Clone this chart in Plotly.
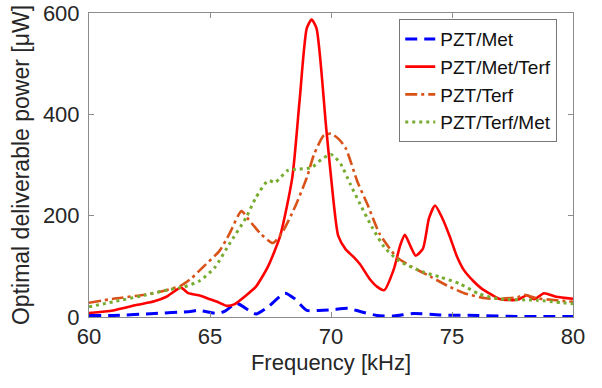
import plotly.graph_objects as go

# PZT/Met (blue dashed)
met_f = [60, 61, 62.7, 64.2, 64.5, 65.3, 65.6, 66.1, 66.6, 66.9, 67.4, 68.1, 68.5, 69.0, 69.5, 70.0,
         70.7, 71.2, 71.9, 72.6, 73.4, 74.5, 76.1, 77.7, 80]
met_p = [3, 3, 7, 11, 13, 7, 11, 27, 13, 6, 20, 47, 36, 13, 13, 14,
         17, 11, 3, 2, 7, 4, 3, 1, 1]

# PZT/Met/Terf (red solid)
metterf_f = [60, 61, 62, 62.7, 63.2, 63.8, 64.1, 64.6, 65.0, 65.3, 65.7, 66.0, 66.5, 66.9, 67.4, 67.9,
             68.4, 68.7, 69.0, 69.2, 69.4, 69.8, 70.1, 70.3, 70.6, 70.9, 71.2, 71.6, 71.9, 72.2,
             72.6, 72.85, 73.05, 73.3, 73.5, 73.8, 74.05, 74.3, 74.6, 74.9, 75.2, 75.5, 75.9, 76.2,
             76.6, 77.0, 77.7, 78.1, 78.4, 78.8, 79.3, 80]
metterf_p = [8, 13, 24, 31, 40, 58, 47, 42, 35, 30, 22, 25, 43, 60, 100, 160,
             275, 426, 570, 587, 570, 374, 230, 160, 134, 120, 104, 75, 60, 53,
             95, 140, 162, 138, 121, 135, 195, 220, 195, 160, 120, 92, 70, 57,
             45, 35, 34, 43, 35, 47, 40, 36]

# PZT/Terf (orange dash-dot)
terf_f = [60, 61, 62.3, 63.1, 63.8, 64.2, 64.7, 65.4, 65.8, 66.3, 66.6, 67.1, 67.6, 68.0, 68.5, 69.0,
          69.3, 69.7, 70.0, 70.3, 70.6, 71.1, 71.5, 72.0, 72.7, 73.3, 74.1, 74.8, 75.5, 76.4,
          77.0, 77.7, 78.0, 78.5, 79.3, 80]
terf_p = [28, 36, 44, 52, 62, 75, 98, 131, 164, 209, 192, 164, 146, 168, 216, 275,
          321, 358, 362, 352, 334, 266, 223, 165, 119, 100, 80, 62, 47, 37,
          36, 39, 44, 37, 33, 30]

# PZT/Terf/Met (green dotted)
terfmet_f = [60, 61, 62.3, 63.3, 63.9, 64.6, 65.2, 65.8, 66.5, 66.9, 67.4, 67.7, 68.2, 68.7, 69.2,
             69.6, 70.0, 70.4, 70.8, 71.2, 71.7, 72.2, 72.8, 73.8, 74.5, 75.3, 76.1, 76.9, 78.5, 80]
terfmet_p = [20, 30, 43, 54, 59, 72, 98, 144, 197, 236, 269, 266, 289, 292, 295,
             311, 321, 302, 262, 223, 177, 138, 111, 89, 79, 66, 46, 36, 33, 26]

names = ["PZT/Met", "PZT/Met/Terf", "PZT/Terf", "PZT/Terf/Met"]
x_ticks = [60, 65, 70, 75, 80]
y_ticks = [0, 200, 400, 600]

FONT = "Liberation Sans, Arial, sans-serif"
TXT = "#262626"
AX = "#8c8c8c"

fig = go.Figure()
fig.add_trace(go.Scatter(x=met_f, y=met_p, name=names[0], mode="lines",
                         line=dict(color="#0000FF", width=3, dash="12px,7px", shape="spline", smoothing=0.6)))
fig.add_trace(go.Scatter(x=metterf_f, y=metterf_p, name=names[1], mode="lines",
                         line=dict(color="#FF0000", width=2.6, shape="spline", smoothing=0.6)))
fig.add_trace(go.Scatter(x=terf_f, y=terf_p, name=names[2], mode="lines",
                         line=dict(color="#D95319", width=2.6, dash="12px,4px,3px,4px", shape="spline", smoothing=0.6)))
fig.add_trace(go.Scatter(x=terfmet_f, y=terfmet_p, name=names[3], mode="lines",
                         line=dict(color="#77AC30", width=3, dash="3px,4px", shape="spline", smoothing=0.6)))

axis_common = dict(showgrid=False, zeroline=False, showline=True, linecolor=AX, linewidth=1,
                   mirror="ticks", ticks="inside", ticklen=5, tickcolor=AX, automargin=False,
                   tickfont=dict(family=FONT, size=22, color=TXT))

fig.update_layout(
    width=602, height=388,
    margin=dict(l=89, r=29, t=13, b=71),
    paper_bgcolor="white", plot_bgcolor="white",
    font=dict(family=FONT, color=TXT),
    xaxis=dict(range=[60, 80], tickvals=x_ticks, ticktext=[str(v) for v in x_ticks],
               title=dict(text="Frequency [kHz]", font=dict(family=FONT, size=22, color=TXT), standoff=6),
               **axis_common),
    yaxis=dict(range=[0, 600], tickvals=y_ticks, ticktext=[str(v) for v in y_ticks],
               ticklabelstandoff=4,
               title=dict(text="Optimal deliverable power [μW]", font=dict(family=FONT, size=23, color=TXT), standoff=6),
               **axis_common),
    legend=dict(x=0.641, y=0.98, xanchor="left", yanchor="top",
                bgcolor="white", bordercolor="#777777", borderwidth=1,
                font=dict(family=FONT, size=19, color="#111111"),
                itemwidth=30, tracegroupgap=0),
    showlegend=True,
)

fig.write_html("out.html", config={"displayModeBar": False},
               post_script="document.body.style.margin='0';document.body.style.overflow='hidden';")
